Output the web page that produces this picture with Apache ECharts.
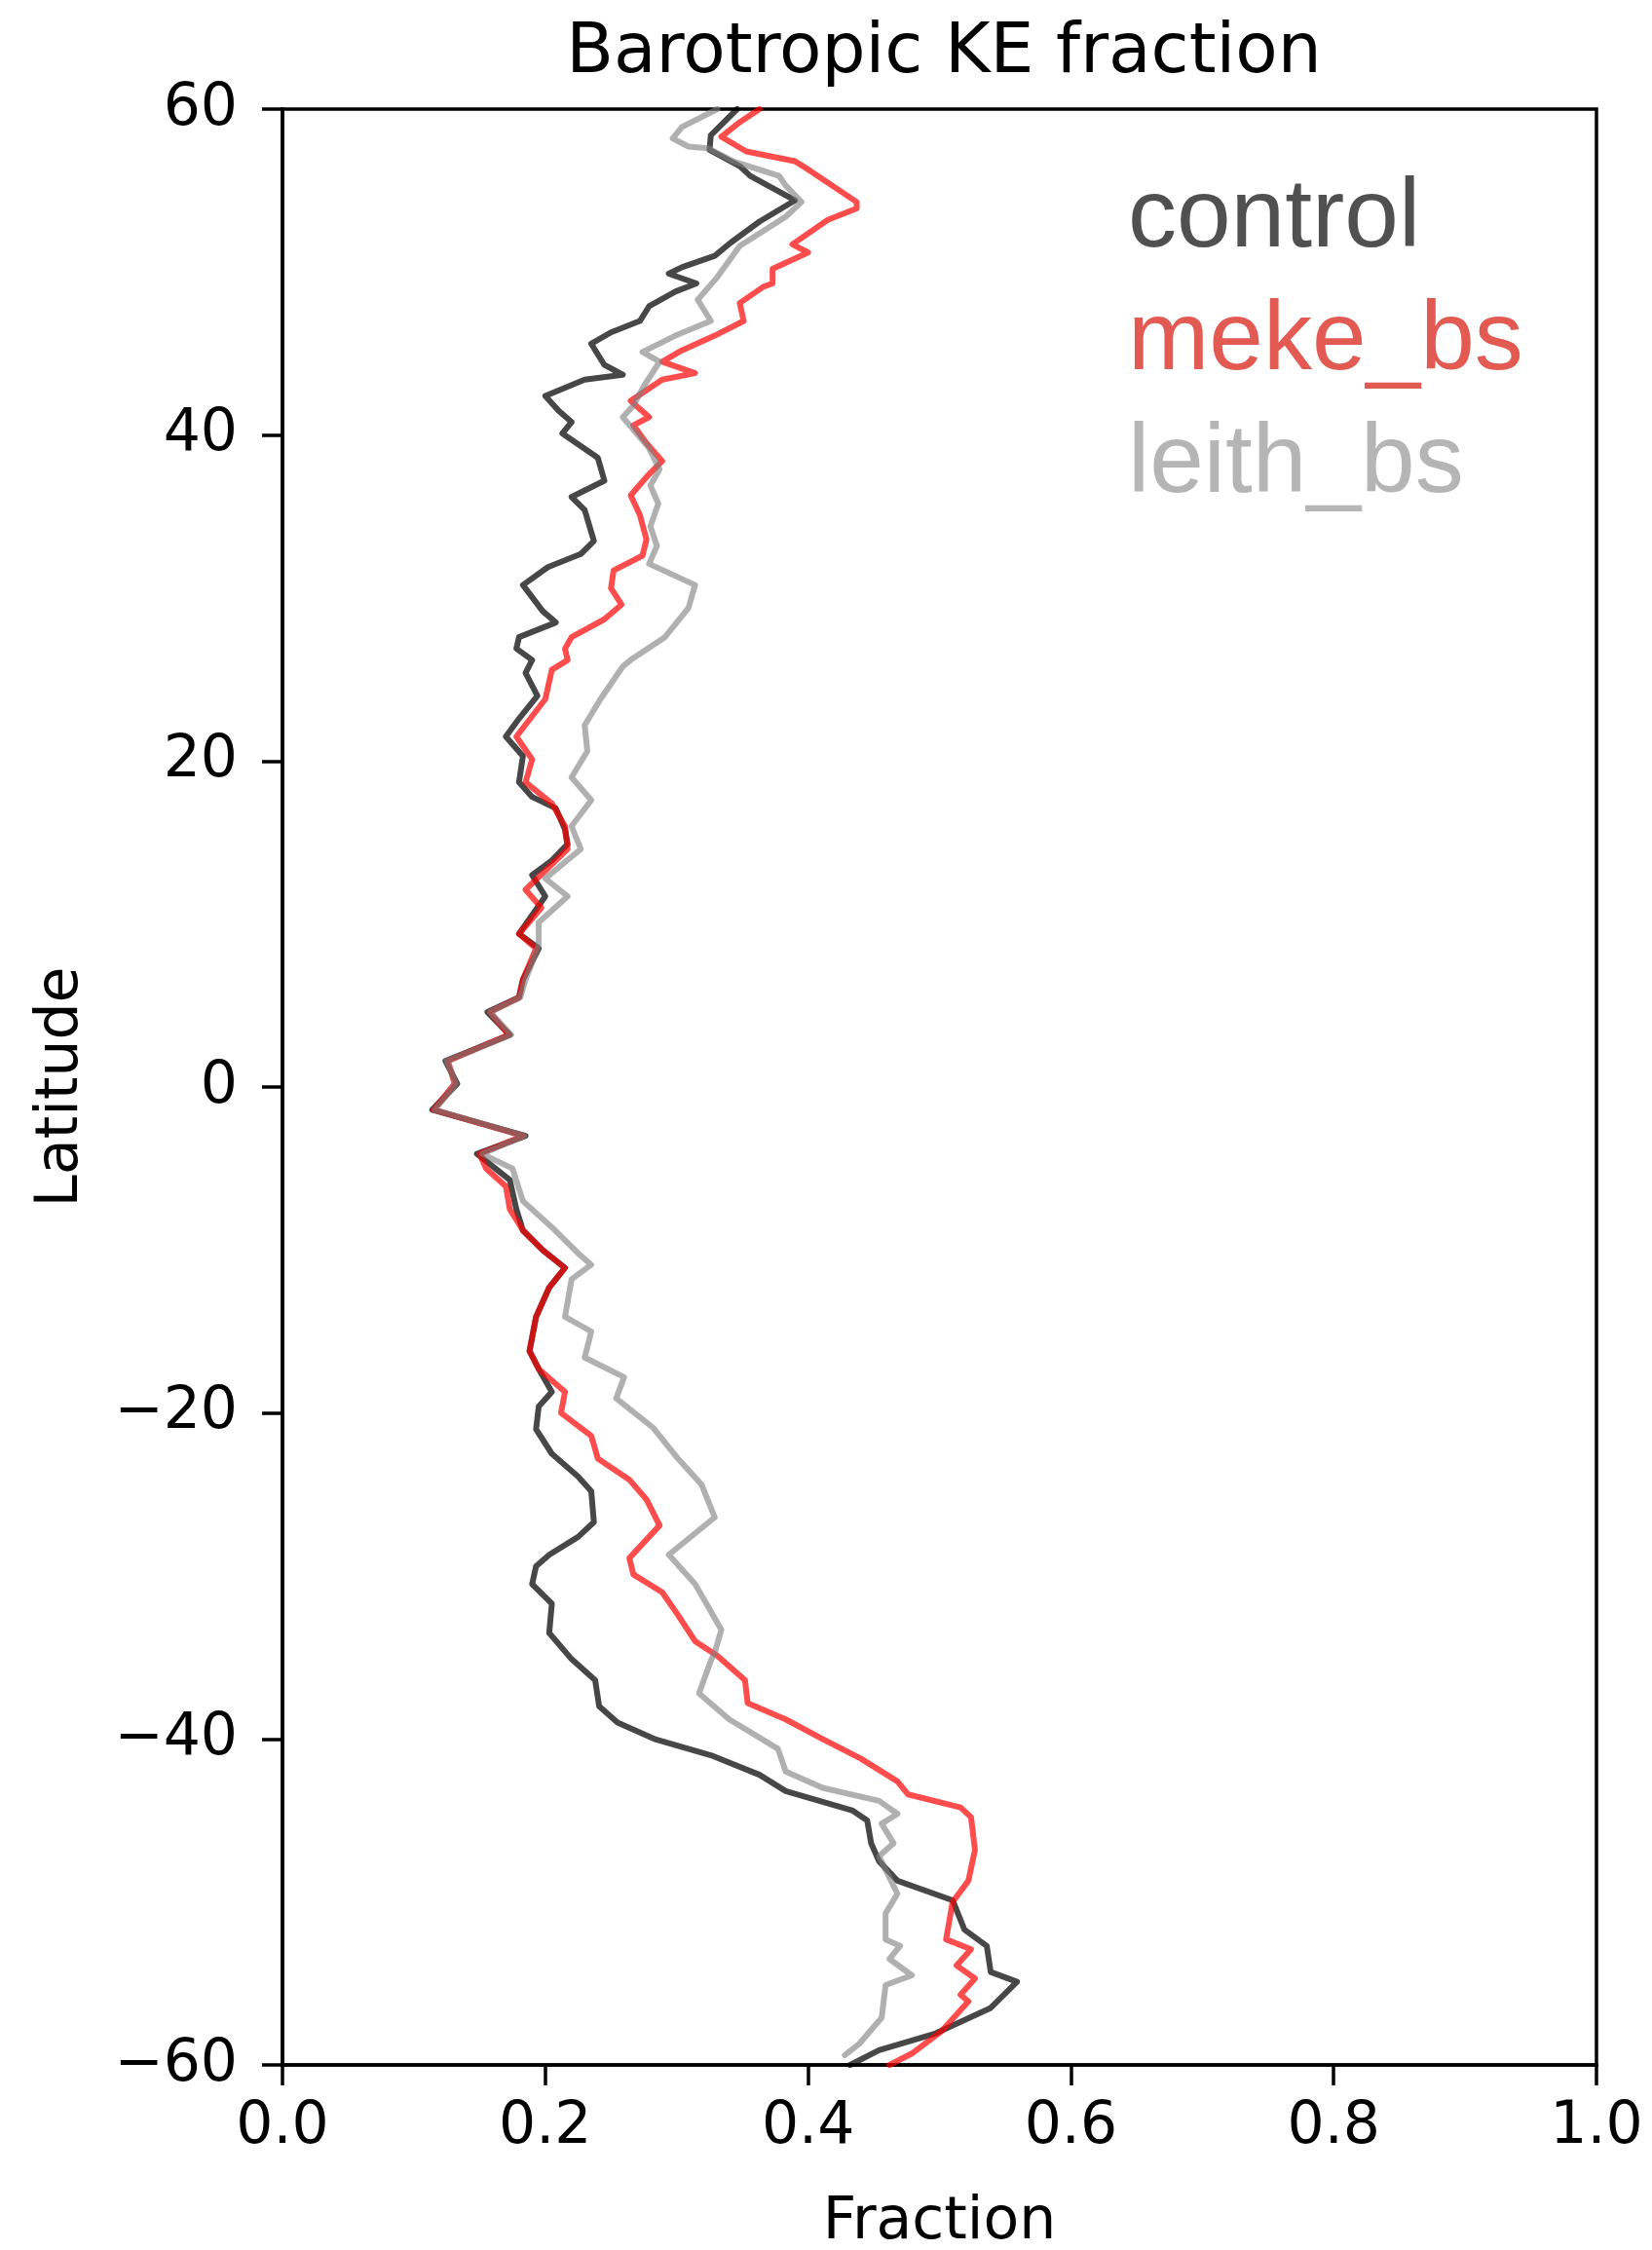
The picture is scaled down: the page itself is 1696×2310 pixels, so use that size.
<!DOCTYPE html>
<html>
<head>
<meta charset="utf-8">
<title>Barotropic KE fraction</title>
<script src="https://cdn.jsdelivr.net/npm/echarts@6/dist/echarts.min.js"></script>
<style>
  html, body { margin: 0; padding: 0; background: #fff; }
  #chart { width: 1696px; height: 2310px; }
</style>
</head>
<body>
<div id="chart"></div>
<script>
// latitude (deg) and barotropic KE fraction, north to south
const controlLat = [60, 58.4, 57.5, 56.5, 55.9, 54.4, 53.1, 51.8, 51.0, 50.3, 49.9, 49.3, 48.8, 47.9, 47.0, 46.3, 45.6, 44.3, 43.7, 43.4,
  42.4, 41.5, 40.8, 40.1, 38.6, 37.2, 36.2, 35.4, 33.5, 32.7, 31.9, 30.8, 29.2, 28.5, 27.6, 26.9, 26.2, 25.4, 24.0, 22.6,
  21.5, 20.3, 18.7, 17.8, 17.1, 15.8, 14.9, 13.9, 13.0, 11.7, 9.4, 8.5, 6.6, 5.5, 4.6, 3.2, 1.6, 0.2, -1.4, -3.0,
  -4.1, -5.7, -7.5, -8.8, -10.0, -11.1, -12.3, -14.1, -16.2, -17.3, -18.7, -19.6, -21.0, -22.5, -23.9, -24.8, -26.7, -27.6, -28.7, -29.4,
  -30.5, -31.7, -33.5, -35.1, -36.4, -38.0, -39.0, -40.0, -41.0, -42.2, -43.2, -44.4, -45.0, -46.4, -47.5, -48.7, -49.9, -51.7, -52.7, -54.3,
  -54.9, -56.5, -58.1, -59.1, -60];
const controlFrac = [0.346, 0.326, 0.325, 0.348, 0.356, 0.390, 0.363, 0.341, 0.329, 0.304, 0.294, 0.315, 0.299, 0.279, 0.272, 0.250, 0.235, 0.245, 0.259, 0.230,
  0.200, 0.210, 0.220, 0.213, 0.240, 0.245, 0.220, 0.230, 0.237, 0.227, 0.202, 0.183, 0.198, 0.208, 0.180, 0.178, 0.190, 0.185, 0.194, 0.180,
  0.170, 0.183, 0.180, 0.190, 0.208, 0.215, 0.217, 0.205, 0.190, 0.200, 0.180, 0.195, 0.183, 0.180, 0.156, 0.173, 0.124, 0.133, 0.114, 0.185,
  0.148, 0.173, 0.178, 0.183, 0.198, 0.215, 0.203, 0.193, 0.188, 0.195, 0.205, 0.195, 0.193, 0.205, 0.225, 0.235, 0.237, 0.225, 0.203, 0.193,
  0.190, 0.205, 0.203, 0.220, 0.238, 0.241, 0.255, 0.283, 0.326, 0.363, 0.383, 0.434, 0.445, 0.448, 0.454, 0.468, 0.510, 0.519, 0.536, 0.539,
  0.559, 0.539, 0.496, 0.454, 0.432];

const mekeLat = [60, 59.2, 58.3, 57.4, 56.8, 56.3, 54.3, 53.9, 53.2, 51.7, 51.2, 50.2, 49.3, 49.1, 48.1, 47.0, 46.1, 45.2, 44.5, 43.8,
  43.4, 42.1, 41.1, 40.6, 39.5, 38.4, 37.6, 36.3, 35.1, 33.6, 32.6, 31.7, 30.6, 29.6, 28.7, 27.6, 26.9, 26.2, 25.6, 23.8,
  21.5, 20.1, 18.7, 17.4, 16.0, 14.6, 12.1, 11.0, 9.4, 8.5, 6.6, 5.5, 4.6, 3.2, 1.6, 0.2, -1.4, -3.0, -4.1, -5.0,
  -6.1, -7.5, -8.8, -10.0, -11.1, -12.3, -14.1, -16.2, -17.3, -18.7, -20.0, -21.4, -22.8, -24.1, -25.3, -26.9, -28.9, -29.9, -31.0, -32.4,
  -34.0, -34.9, -36.4, -37.8, -38.8, -40.0, -41.2, -42.6, -43.4, -44.2, -44.8, -46.8, -48.7, -50.0, -52.3, -52.9, -53.9, -54.7, -55.7, -56.1,
  -57.9, -59.3, -60];
const mekeFrac = [0.363, 0.348, 0.334, 0.353, 0.390, 0.400, 0.437, 0.437, 0.415, 0.388, 0.400, 0.373, 0.373, 0.366, 0.348, 0.351, 0.329, 0.304, 0.289, 0.314,
  0.289, 0.265, 0.279, 0.267, 0.277, 0.289, 0.279, 0.265, 0.272, 0.277, 0.274, 0.252, 0.250, 0.258, 0.245, 0.220, 0.215, 0.217, 0.205, 0.200,
  0.178, 0.190, 0.185, 0.205, 0.215, 0.217, 0.185, 0.197, 0.180, 0.193, 0.183, 0.180, 0.158, 0.172, 0.126, 0.131, 0.115, 0.183, 0.150, 0.155,
  0.170, 0.173, 0.183, 0.198, 0.215, 0.203, 0.193, 0.188, 0.195, 0.215, 0.212, 0.235, 0.240, 0.264, 0.277, 0.287, 0.264, 0.267, 0.289, 0.301,
  0.314, 0.331, 0.352, 0.354, 0.383, 0.411, 0.440, 0.468, 0.476, 0.516, 0.524, 0.527, 0.522, 0.510, 0.505, 0.524, 0.513, 0.527, 0.516, 0.522,
  0.502, 0.479, 0.462];

const leithLat = [60, 58.9, 58.2, 57.7, 57.6, 56.8, 55.9, 55.3, 54.3, 53.4, 51.6, 49.7, 48.3, 47.0, 46.1, 45.1, 44.5, 43.0, 41.8, 41.1,
  39.2, 37.9, 36.9, 35.8, 34.4, 33.2, 32.1, 30.8, 29.4, 27.6, 26.2, 25.8, 23.8, 22.2, 20.6, 19.0, 17.6, 16.0, 14.6, 12.8, 11.7, 10.1,
  8.7, 6.6, 5.5, 4.6, 3.2, 1.6, 0.2, -1.4, -3.0, -4.1, -5.0, -7.0, -8.6, -10.2, -10.9, -11.8, -14.1, -15.0, -16.6, -17.8,
  -19.1, -20.9, -22.8, -24.4, -26.4, -28.7, -30.5, -33.3, -34.7, -35.2, -37.2, -38.8, -40.6, -42.0, -43.0, -43.8, -44.6, -45.2, -46.4, -47.2,
  -49.5, -50.7, -52.3, -52.7, -53.5, -54.5, -55.1, -57.1, -58.7, -59.4];
const leithFrac = [0.331, 0.304, 0.297, 0.309, 0.324, 0.343, 0.378, 0.383, 0.395, 0.383, 0.348, 0.331, 0.316, 0.326, 0.299, 0.274, 0.287, 0.275, 0.267, 0.259,
  0.279, 0.287, 0.280, 0.286, 0.280, 0.285, 0.279, 0.314, 0.309, 0.291, 0.265, 0.259, 0.242, 0.230, 0.232, 0.220, 0.235, 0.220, 0.227, 0.200, 0.217, 0.195,
  0.195, 0.185, 0.181, 0.158, 0.174, 0.125, 0.132, 0.116, 0.184, 0.152, 0.175, 0.183, 0.205, 0.225, 0.235, 0.220, 0.215, 0.235, 0.230, 0.260,
  0.254, 0.282, 0.301, 0.319, 0.329, 0.294, 0.314, 0.334, 0.329, 0.326, 0.317, 0.340, 0.377, 0.383, 0.411, 0.454, 0.468, 0.456, 0.465, 0.454,
  0.468, 0.459, 0.459, 0.470, 0.462, 0.479, 0.459, 0.456, 0.439, 0.428];

const fontTick = 'DejaVu Sans';

const chart = echarts.init(document.getElementById('chart'));

const toPairs = (lats, fracs) => lats.map((lat, i) => [fracs[i], lat]);

const lineSeries = (name, lats, fracs, color) => ({
  name: name,
  type: 'line',
  data: toPairs(lats, fracs),
  showSymbol: false,
  symbol: 'none',
  smooth: false,
  clip: true,
  lineStyle: { color: color, width: 6, join: 'round', cap: 'round' },
  itemStyle: { color: color }
});

const option = {
  animation: false,
  backgroundColor: '#fff',
  title: {
    text: 'Barotropic KE fraction',
    left: 964,
    top: 15,
    textAlign: 'center',
    textStyle: { fontFamily: fontTick, fontSize: 71, fontWeight: 'normal', color: '#000' }
  },
  legend: {
    orient: 'vertical',
    left: 1148,
    top: 157,
    icon: 'none',
    itemWidth: 0,
    itemHeight: 0,
    itemGap: 0,
    selectedMode: false,
    textStyle: { fontFamily: 'Liberation Sans', fontSize: 100, lineHeight: 126 },
    data: [
      { name: 'control', textStyle: { color: '#505050' } },
      { name: 'meke_bs', textStyle: { color: '#e25a52' } },
      { name: 'leith_bs', textStyle: { color: '#b5b5b5' } }
    ]
  },
  grid: {
    left: 290,
    right: 57,
    top: 112,
    bottom: 190,
    containLabel: false,
    outerBoundsMode: 'none',
    show: true,
    borderColor: '#000',
    borderWidth: 3.5
  },
  xAxis: {
    type: 'value',
    min: 0,
    max: 1,
    interval: 0.2,
    name: 'Fraction',
    nameLocation: 'middle',
    nameGap: 132,
    nameTextStyle: { fontFamily: fontTick, fontSize: 60, color: '#000' },
    axisLine: { onZero: false, lineStyle: { color: '#000', width: 3.5 } },
    axisTick: { length: 21, lineStyle: { color: '#000', width: 3.5 } },
    axisLabel: {
      fontFamily: fontTick, fontSize: 60, color: '#000', margin: 34,
      formatter: (v) => v.toFixed(1)
    },
    splitLine: { show: false }
  },
  yAxis: {
    type: 'value',
    min: -60,
    max: 60,
    interval: 20,
    name: 'Latitude',
    nameLocation: 'middle',
    nameGap: 197,
    nameRotate: 90,
    nameTextStyle: { fontFamily: fontTick, fontSize: 60, color: '#000' },
    axisLine: { onZero: false, lineStyle: { color: '#000', width: 3.5 } },
    axisTick: { length: 21, lineStyle: { color: '#000', width: 3.5 } },
    axisLabel: {
      fontFamily: fontTick, fontSize: 60, color: '#000', margin: 46,
      formatter: (v) => (v < 0 ? '\u2212' + Math.abs(v) : String(v))
    },
    splitLine: { show: false }
  },
  series: [
    lineSeries('control', controlLat, controlFrac, 'rgba(0,0,0,0.72)'),
    lineSeries('meke_bs', mekeLat, mekeFrac, 'rgba(255,0,0,0.7)'),
    lineSeries('leith_bs', leithLat, leithFrac, 'rgba(128,128,128,0.62)')
  ]
};

chart.setOption(option);
</script>
</body>
</html>
